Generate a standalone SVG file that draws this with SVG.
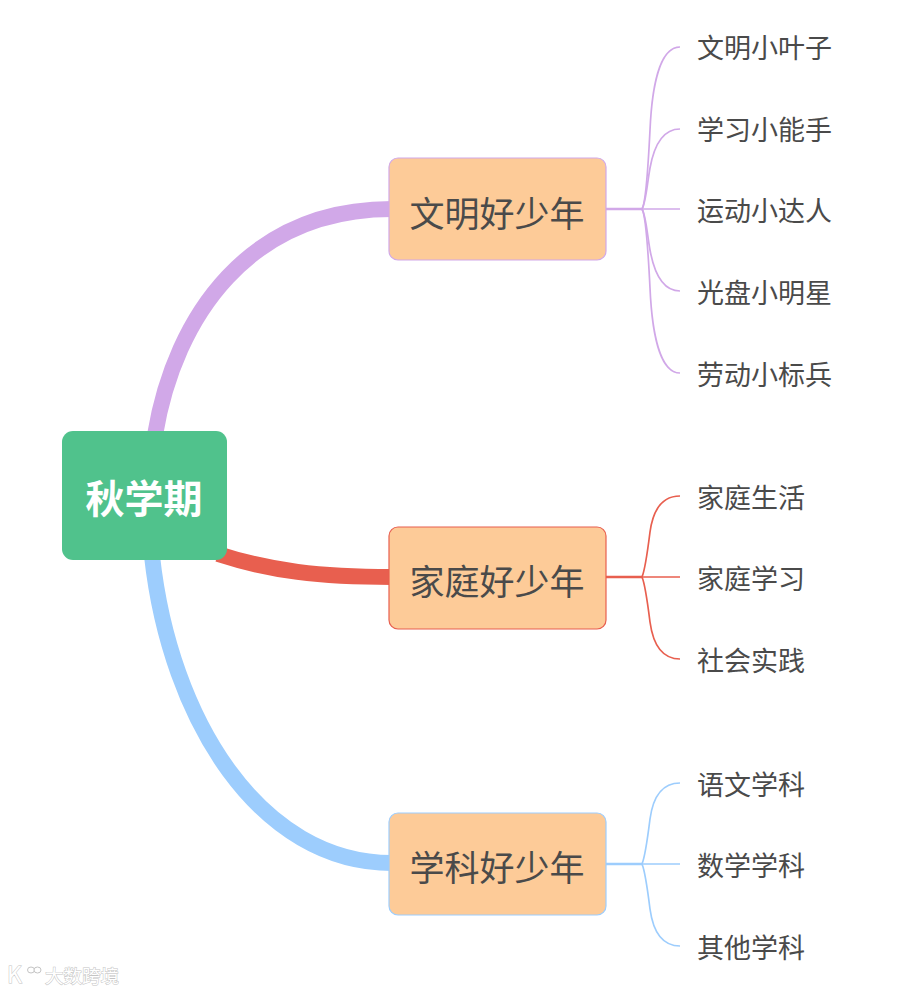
<svg xmlns="http://www.w3.org/2000/svg" width="915" height="992" viewBox="0 0 915 992">
<style>
text{font-family:"Noto Sans CJK SC","Noto Sans",sans-serif;fill:#4a4a4a}
.leaf{font-size:27px;dominant-baseline:central}
.mid{font-size:35px;text-anchor:middle;dominant-baseline:central}
.box{fill:#fdcb98;stroke-width:1.2}
.c{fill:none}
.thick{stroke-width:16}
.thin{stroke-width:1.7}
.stem{stroke-width:2.5}
.p{stroke:#d1a8e8}.r{stroke:#e85f4f}.b{stroke:#9dcdfd}
.wm{fill:#fff;stroke:#c4c4c4;stroke-width:1;paint-order:stroke}
</style>
<rect width="915" height="992" fill="#fff"/>
<g id="connectors">
<path class="c thick p" d="M155 435C175 315 250 209 392 209"/>
<path class="c thick r" d="M218 554C270 571 320 577 392 577"/>
<path class="c thick b" d="M152 556C170 720 260 863 392 863"/>
<path class="c stem p" d="M606 209H642"/>
<path class="c stem r" d="M606 577H642"/>
<path class="c stem b" d="M606 864H642"/>
<path class="c thin p" d="M642 209C646 203 648 170 650 130C652 85 660 47 680 47"/>
<path class="c thin p" d="M642 209C646 202 647 185 650 168C654 146 662 129 680 129"/>
<path class="c thin p" d="M642 209H680"/>
<path class="c thin p" d="M642 209C646 216 647 233 650 250C654 272 662 291 680 291"/>
<path class="c thin p" d="M642 209C646 215 648 248 650 288C652 333 660 373 680 373"/>
<path class="c thin r" d="M642 577C645 570 648 548 650 532C653 510 662 496 680 496"/>
<path class="c thin r" d="M642 577H680"/>
<path class="c thin r" d="M642 577C645 584 648 606 650 622C653 644 662 659 680 659"/>
<path class="c thin b" d="M642 864C645 857 648 835 650 819C653 797 662 783 680 783"/>
<path class="c thin b" d="M642 864H680"/>
<path class="c thin b" d="M642 864C645 871 648 893 650 909C653 931 662 946 680 946"/>
</g>
<g id="root"><rect x="62" y="431" width="165" height="129" rx="11" fill="#50c28c"/><text x="144" y="496" text-anchor="middle" dominant-baseline="central" font-size="39" font-weight="700" style="fill:#fff">秋学期</text></g>
<g id="n1"><rect class="box" x="389" y="158" width="217" height="102" rx="9" stroke="#d1a8e8"/><text class="mid" x="497" y="211">文明好少年</text></g>
<g id="n2"><rect class="box" x="389" y="527" width="217" height="102" rx="9" stroke="#e85f4f"/><text class="mid" x="497" y="579">家庭好少年</text></g>
<g id="n3"><rect class="box" x="389" y="813" width="217" height="102" rx="9" stroke="#9dcdfd"/><text class="mid" x="497" y="865">学科好少年</text></g>
<g id="l1"><text class="leaf" x="697" y="46">文明小叶子</text></g>
<g id="l2"><text class="leaf" x="697" y="128">学习小能手</text></g>
<g id="l3"><text class="leaf" x="697" y="209">运动小达人</text></g>
<g id="l4"><text class="leaf" x="697" y="291">光盘小明星</text></g>
<g id="l5"><text class="leaf" x="697" y="373">劳动小标兵</text></g>
<g id="l6"><text class="leaf" x="697" y="496">家庭生活</text></g>
<g id="l7"><text class="leaf" x="697" y="577">家庭学习</text></g>
<g id="l8"><text class="leaf" x="697" y="659">社会实践</text></g>
<g id="l9"><text class="leaf" x="697" y="783">语文学科</text></g>
<g id="l10"><text class="leaf" x="697" y="864">数学学科</text></g>
<g id="l11"><text class="leaf" x="697" y="946">其他学科</text></g>
<g id="watermark"><text class="wm" x="45" y="975" dominant-baseline="central" font-size="18.5">大数跨境</text><text class="wm" x="7" y="973" dominant-baseline="central" font-size="23">K</text><ellipse cx="31" cy="970" rx="3.5" ry="3" fill="#fff" stroke="#c4c4c4"/><ellipse cx="37.500" cy="970" rx="3.5" ry="3" fill="#fff" stroke="#c4c4c4"/></g>
</svg>
